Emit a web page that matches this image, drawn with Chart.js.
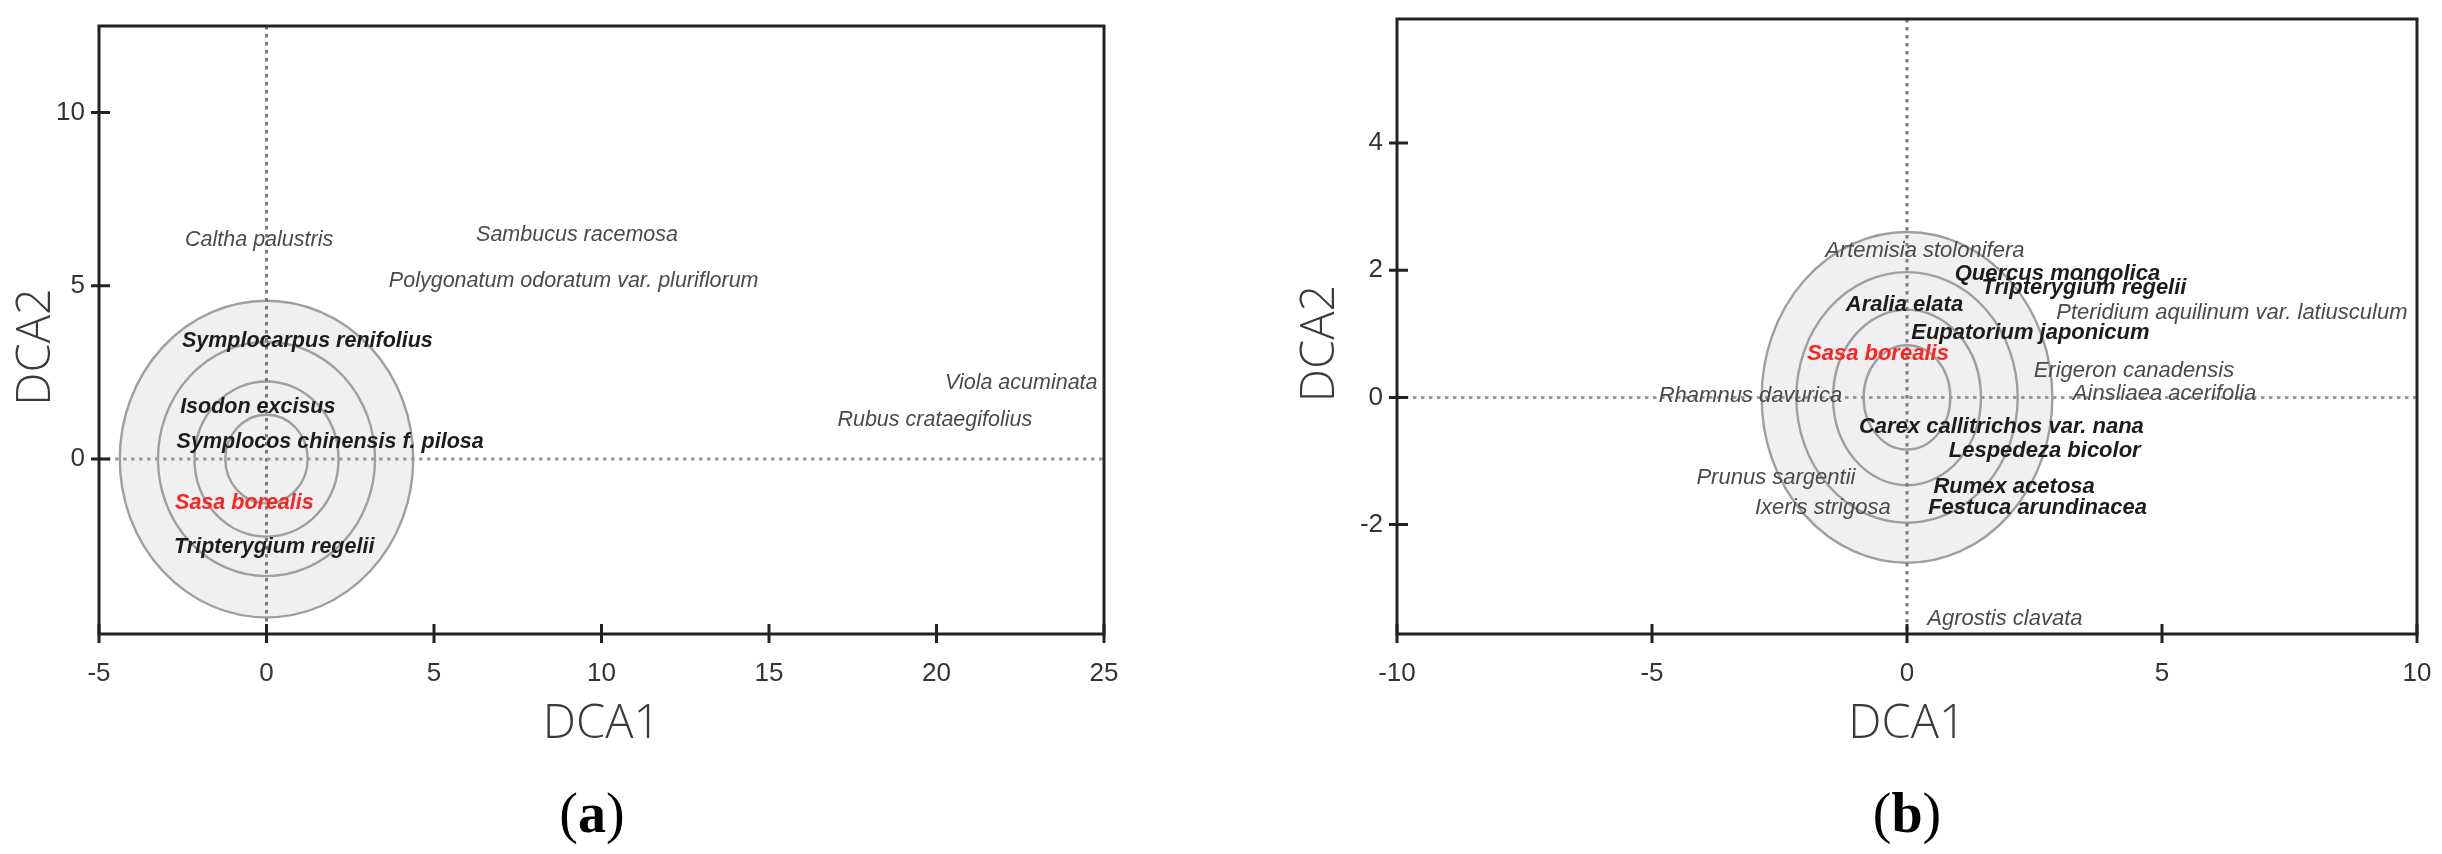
<!DOCTYPE html>
<html>
<head>
<meta charset="utf-8">
<title>DCA ordination</title>
<script src="https://cdn.jsdelivr.net/npm/chart.js@4.4.1/dist/chart.umd.min.js"></script>
<style>
  html, body { margin: 0; padding: 0; background: #fff; }
  body { width: 2442px; height: 854px; position: relative; overflow: hidden; }
  .panel { position: absolute; top: 0; width: 1221px; height: 854px; }
  #panel-a { left: 0; }
  #panel-b { left: 1221px; }
  .caption {
    position: absolute; top: 784px; height: 58px; line-height: 58px;
    font-family: "Liberation Serif", "DejaVu Serif", serif; font-size: 56px; color: #000;
    transform: translateX(-50%); white-space: nowrap;
  }
</style>
</head>
<body>
<div class="panel" id="panel-a"><canvas id="chart-a" width="1221" height="854"></canvas></div>
<div class="panel" id="panel-b"><canvas id="chart-b" width="1221" height="854"></canvas></div>
<div class="caption" style="left: 592px">(<b>a</b>)</div>
<div class="caption" style="left: 1907px">(<b>b</b>)</div>

<script>
// ---- panel (a) ----
const SPECIES_A = [
  "Caltha palustris", "Sambucus racemosa", "Polygonatum odoratum var. pluriflorum",
  "Symplocarpus renifolius", "Viola acuminata", "Rubus crataegifolius",
  "Isodon excisus", "Symplocos chinensis f. pilosa", "Sasa borealis", "Tripterygium regelii",
];
const DCA1_A = [-0.22, 9.27, 9.17, 1.22, 22.53, 19.95, -0.26, 1.9, -0.66, 0.23];
const DCA2_A = [6.32, 6.46, 5.13, 3.4, 2.2, 1.14, 1.5, 0.48, -1.27, -2.53];
const GROUP_A = ["other", "other", "other", "indicator", "other", "other",
  "indicator", "indicator", "focal", "indicator"];
const X_TICKS_A = [-5, 0, 5, 10, 15, 20, 25];
const Y_TICKS_A = [0, 5, 10];
const X_RANGE_A = [-5, 25];
const Y_RANGE_A = [-5.05, 12.5];
const RING_DCA1_A = [4.38, 3.24, 2.15, 1.23];
const RING_DCA2_A = [4.57, 3.38, 2.24, 1.28];

// ---- panel (b) ----
const SPECIES_B = [
  "Artemisia stolonifera", "Quercus mongolica", "Tripterygium regelii", "Aralia elata",
  "Pteridium aquilinum var. latiusculum", "Eupatorium japonicum", "Sasa borealis",
  "Erigeron canadensis", "Rhamnus davurica", "Ainsliaea acerifolia",
  "Carex callitrichos var. nana", "Lespedeza bicolor", "Prunus sargentii",
  "Rumex acetosa", "Ixeris strigosa", "Festuca arundinacea", "Agrostis clavata",
];
const DCA1_B = [0.35, 2.95, 3.47, -0.05, 6.37, 2.42, -0.57, 4.45, -3.07, 5.05,
  1.85, 2.7, -2.57, 2.1, -1.65, 2.56, 1.92];
const DCA2_B = [2.3, 1.94, 1.72, 1.46, 1.33, 1.02, 0.68, 0.42, 0.02, 0.05,
  -0.46, -0.84, -1.27, -1.4, -1.74, -1.74, -3.48];
const GROUP_B = ["other", "indicator", "indicator", "indicator", "other", "indicator",
  "focal", "other", "other", "other", "indicator", "indicator", "other",
  "indicator", "other", "indicator", "other"];
const X_TICKS_B = [-10, -5, 0, 5, 10];
const Y_TICKS_B = [-2, 0, 2, 4];
const X_RANGE_B = [-10, 10];
const Y_RANGE_B = [-3.72, 5.95];
const RING_DCA1_B = [2.85, 2.17, 1.45, 0.85];
const RING_DCA2_B = [2.6, 1.97, 1.38, 0.82];

const TICK_FONT = "'Liberation Sans', Arial, sans-serif";
const LABEL_FONT = "'Liberation Sans', Arial, sans-serif";
const TITLE_FONT = "'Open Sans', 'Noto Sans', sans-serif";
const TITLE_SIZE = 47;

const GROUP_STYLE = {
  other: { weight: "normal", color: "#4a4a4a" },
  indicator: { weight: "bold", color: "#1c1c1c" },
  focal: { weight: "bold", color: "#ff2222" },
};

// rings, zero lines, species names, frame, crossing ticks and the DCA2 title
const ordinationPlot = {
  id: "ordinationPlot",
  beforeDatasetsDraw(chart, args, opts) {
    const { ctx, chartArea: area, scales: { x, y } } = chart;
    const cx = x.getPixelForValue(0);
    const cy = y.getPixelForValue(0);
    const rx = opts.ringX.map((r) => x.getPixelForValue(r) - cx);
    const ry = opts.ringY.map((r) => cy - y.getPixelForValue(r));

    ctx.save();
    ctx.beginPath();
    ctx.ellipse(cx, cy, rx[0], ry[0], 0, 0, Math.PI * 2);
    ctx.fillStyle = "#f0f0f0";
    ctx.fill();

    ctx.strokeStyle = "#9f9f9f";
    ctx.lineWidth = 2.4;
    rx.forEach((r, i) => {
      ctx.beginPath();
      ctx.ellipse(cx, cy, r, ry[i], 0, 0, Math.PI * 2);
      ctx.stroke();
    });

    ctx.setLineDash([3.5, 4.5]);
    ctx.lineWidth = 3;
    ctx.strokeStyle = "#7a7a7a";
    ctx.beginPath();
    ctx.moveTo(cx, area.top);
    ctx.lineTo(cx, area.bottom);
    ctx.stroke();
    ctx.strokeStyle = "#9a9a9a";
    ctx.beginPath();
    ctx.moveTo(area.left, cy);
    ctx.lineTo(area.right, cy);
    ctx.stroke();
    ctx.restore();
  },
  afterDatasetsDraw(chart, args, opts) {
    const { ctx } = chart;
    const ds = chart.data.datasets[0];
    const meta = chart.getDatasetMeta(0);
    ctx.save();
    ctx.textAlign = "center";
    ctx.textBaseline = "middle";
    meta.data.forEach((pt, i) => {
      const st = GROUP_STYLE[ds.groups[i]];
      ctx.font = `italic ${st.weight} ${opts.labelSize}px ${LABEL_FONT}`;
      ctx.fillStyle = st.color;
      ctx.fillText(ds.names[i], pt.x, pt.y);
    });
    ctx.restore();
  },
  afterDraw(chart, args, opts) {
    const { ctx, chartArea: area, scales: { x, y } } = chart;
    ctx.save();
    ctx.strokeStyle = "#222";
    ctx.lineWidth = 3;
    ctx.strokeRect(area.left, area.top, area.right - area.left, area.bottom - area.top);
    ctx.beginPath();
    x.ticks.forEach((t) => {
      const px = x.getPixelForValue(t.value);
      ctx.moveTo(px, area.bottom - 10);
      ctx.lineTo(px, area.bottom + 9);
    });
    y.ticks.forEach((t) => {
      const py = y.getPixelForValue(t.value);
      ctx.moveTo(area.left - 8, py);
      ctx.lineTo(area.left + 11, py);
    });
    ctx.stroke();

    // vertical axis title, sitting a little below the middle of the axis
    ctx.translate(opts.yTitleX, (area.top + area.bottom) / 2 + 17);
    ctx.rotate(-Math.PI / 2);
    ctx.font = `300 ${TITLE_SIZE}px ${TITLE_FONT}`;
    ctx.fillStyle = "#3a3a3a";
    ctx.textAlign = "center";
    ctx.textBaseline = "middle";
    ctx.fillText("DCA2", 0, 0);
    ctx.restore();
  },
};

function dropScalePadding(s) {
  s.paddingLeft = 0;
  s.paddingRight = 0;
  s.paddingTop = 0;
  s.paddingBottom = 0;
}

function buildChart(canvasId, p) {
  const points = p.dca1.map((v, i) => ({ x: v, y: p.dca2[i] }));
  return new Chart(document.getElementById(canvasId), {
    type: "scatter",
    data: {
      datasets: [{
        data: points,
        names: p.species,
        groups: p.groups,
        pointRadius: 0,
        pointHoverRadius: 0,
      }],
    },
    options: {
      responsive: false,
      animation: false,
      events: [],
      layout: { padding: p.padding },
      plugins: {
        legend: { display: false },
        tooltip: { enabled: false },
        ordinationPlot: {
          ringX: p.ringX, ringY: p.ringY, labelSize: p.labelSize, yTitleX: p.yTitleX,
        },
      },
      scales: {
        x: {
          type: "linear",
          min: p.xRange[0],
          max: p.xRange[1],
          afterBuildTicks: (s) => { s.ticks = p.xTicks.map((v) => ({ value: v })); },
          afterFit: (s) => { s.height = 220; dropScalePadding(s); },
          grid: { display: false, drawTicks: false },
          border: { display: false },
          ticks: {
            autoSkip: false, maxRotation: 0, padding: 24, color: "#333",
            font: { family: TICK_FONT, size: 26 },
          },
          title: {
            display: true, text: "DCA1", color: "#3a3a3a",
            font: { family: TITLE_FONT, size: TITLE_SIZE, weight: 300 },
            padding: { top: 0, bottom: 101 },
          },
        },
        y: {
          type: "linear",
          min: p.yRange[0],
          max: p.yRange[1],
          afterBuildTicks: (s) => { s.ticks = p.yTicks.map((v) => ({ value: v })); },
          afterFit: (s) => { s.width = p.yWidth; dropScalePadding(s); },
          grid: { display: false, drawTicks: false },
          border: { display: false },
          ticks: {
            autoSkip: false, padding: 14, color: "#333",
            font: { family: TICK_FONT, size: 26 },
          },
          title: { display: false },
        },
      },
    },
    plugins: [ordinationPlot],
  });
}

buildChart("chart-a", {
  species: SPECIES_A, dca1: DCA1_A, dca2: DCA2_A, groups: GROUP_A,
  xTicks: X_TICKS_A, yTicks: Y_TICKS_A, xRange: X_RANGE_A, yRange: Y_RANGE_A,
  ringX: RING_DCA1_A, ringY: RING_DCA2_A,
  padding: { top: 26, right: 117, bottom: 0, left: 0 },
  yWidth: 99, yTitleX: 37, labelSize: 21.5,
});

buildChart("chart-b", {
  species: SPECIES_B, dca1: DCA1_B, dca2: DCA2_B, groups: GROUP_B,
  xTicks: X_TICKS_B, yTicks: Y_TICKS_B, xRange: X_RANGE_B, yRange: Y_RANGE_B,
  ringX: RING_DCA1_B, ringY: RING_DCA2_B,
  padding: { top: 19, right: 25, bottom: 0, left: 0 },
  yWidth: 176, yTitleX: 100, labelSize: 22,
});
</script>
</body>
</html>
